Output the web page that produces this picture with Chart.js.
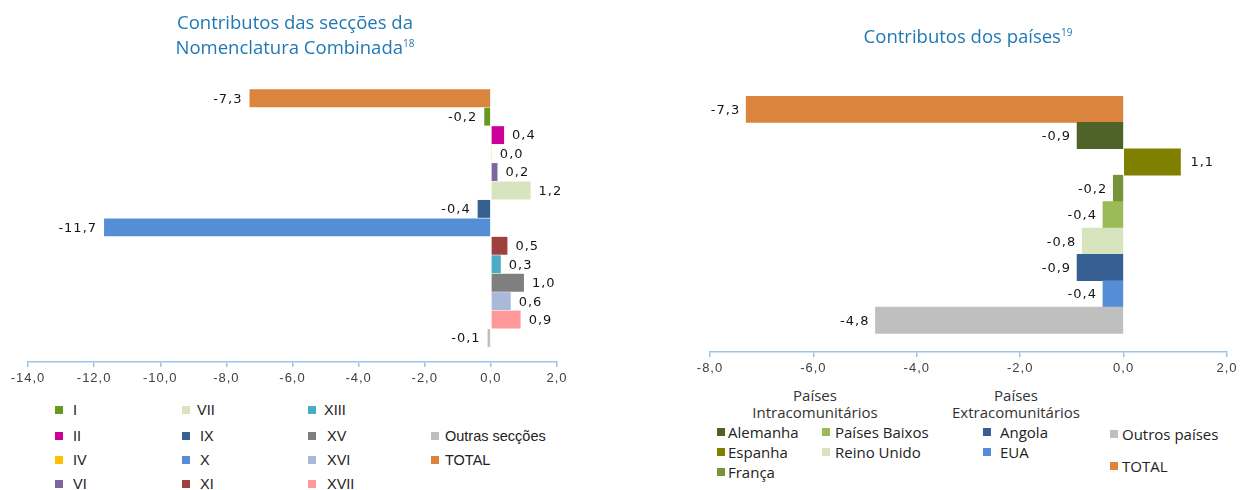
<!DOCTYPE html>
<html><head><meta charset="utf-8">
<script src="https://cdn.jsdelivr.net/npm/chart.js@4.4.1/dist/chart.umd.min.js"></script>
<style>
html,body{margin:0;padding:0;background:#fff;}
#wrap{position:relative;width:1242px;height:490px;overflow:hidden;}
canvas{position:absolute;top:0;}
.title{position:absolute;color:#1f78b4;font-family:"Open Sans",sans-serif;font-size:18.5px;text-align:center;line-height:25px;white-space:nowrap;}
.title sup{font-size:10px;vertical-align:top;position:relative;top:-3px;}
.lg{position:absolute;white-space:nowrap;color:#222;display:flex;align-items:center;}
.lg i{display:inline-block;width:8px;height:8px;}
.lsec{font-family:"Liberation Sans",Arial,sans-serif;font-size:14.5px;}
.lcty{font-family:"Open Sans",sans-serif;font-size:15px;}
.hdr{position:absolute;font-family:"Open Sans",sans-serif;font-size:15px;color:#333;text-align:center;line-height:17px;white-space:nowrap;transform:translateX(-50%);}
</style></head>
<body><div id="wrap">
<canvas id="c1" width="620" height="390" style="left:0"></canvas>
<canvas id="c2" width="622" height="380" style="left:620px"></canvas>
<div class="title" style="left:95px;width:400px;top:9px;">Contributos das secções da<br>Nomenclatura Combinada<sup>18</sup></div>
<div class="title" style="left:768px;width:400px;top:23px;">Contributos dos países<sup>19</sup></div>
<div id="leg"></div>
</div>
<script>
// ---- data: left chart (secções da NC) ----
const secCategories = ['TOTAL','I','II','IV','VI','VII','IX','X','XI','XIII','XV','XVI','XVII','Outras secções'];
const secValues     = [-7.3, -0.2, 0.4, 0.03, 0.2, 1.2, -0.4, -11.7, 0.5, 0.3, 1.0, 0.6, 0.9, -0.1];
const secColors     = ['#db843d','#669a1e','#cc0099','#ffc000','#8064a2','#d7e4bd','#376092','#558ed5','#a0403e','#4bacc6','#7f7f7f','#aab9da','#ff9999','#bfbfbf'];
const secTicks      = [-14, -12, -10, -8, -6, -4, -2, 0, 2];

// ---- data: right chart (países) ----
const ctyCategories = ['TOTAL','Alemanha','Espanha','França','Países Baixos','Reino Unido','Angola','EUA','Outros países'];
const ctyValues     = [-7.3, -0.9, 1.1, -0.2, -0.4, -0.8, -0.9, -0.4, -4.8];
const ctyColors     = ['#db843d','#4f6228','#7f7f00','#77933c','#9bbb59','#d7e4bd','#376092','#558ed5','#bfbfbf'];
const ctyTicks      = [-8, -6, -4, -2, 0, 2];

const fmt = v => v.toFixed(1).replace('.', ',').replace('-0,0','0,0');
const AXIS = '#9dc3e6';

const spacing = {
  id: 'spacing',
  beforeDraw(chart) { chart.ctx.letterSpacing = '1px'; }
};

const valueLabels = {
  id: 'valueLabels',
  afterDatasetsDraw(chart, args, opts) {
    const ctx = chart.ctx;
    const meta = chart.getDatasetMeta(0);
    const data = chart.data.datasets[0].data;
    ctx.save();
    ctx.letterSpacing = '1px';
    ctx.font = '13px "DejaVu Sans", Verdana, sans-serif';
    ctx.fillStyle = '#151515';
    ctx.textBaseline = 'middle';
    meta.data.forEach((bar, i) => {
      const v = data[i];
      const xEnd = bar.x;
      if (v < 0) { ctx.textAlign = 'right'; ctx.fillText(fmt(v), xEnd - opts.neg, bar.y + 1); }
      else { ctx.textAlign = 'left'; ctx.fillText(fmt(v), xEnd + opts.pos, bar.y + 1); }
    });
    ctx.restore();
  }
};

function makeChart(id, cats, vals, cols, ticks, padding, extra, barPct, lab) {
  return new Chart(document.getElementById(id), {
    type: 'bar',
    data: { labels: cats, datasets: [{ data: vals, backgroundColor: cols, borderWidth: 0,
            barPercentage: barPct, categoryPercentage: 1 }] },
    options: {
      indexAxis: 'y', responsive: false, animation: false,
      layout: { padding },
      plugins: { legend: { display: false }, tooltip: { enabled: false }, valueLabels: lab },
      scales: {
        y: { display: false, offset: true,
             afterBuildTicks: s => { s._valueRange = cats.length + extra; } },
        x: { min: ticks[0], max: ticks[ticks.length - 1],
             afterBuildTicks: s => { s.ticks = ticks.map(v => ({ value: v })); },
             afterFit: s => { s.height = 28; },
             border: { color: AXIS, width: 1.5 },
             grid: { drawOnChartArea: false, drawTicks: true, tickLength: 5, color: AXIS, lineWidth: 1.5 },
             ticks: { padding: 4, color: '#404040', font: { family: '"Liberation Sans", Arial, sans-serif', size: 13 },
                      callback: v => fmt(v), maxRotation: 0, autoSkip: false } }
      }
    },
    plugins: [spacing, valueLabels]
  });
}

makeChart('c1', secCategories, secValues, secColors, secTicks, { left: 28, right: 63, top: 89, bottom: 0 }, 0.8, 0.97, { neg: 7, pos: 8 });
makeChart('c2', ctyCategories, ctyValues, ctyColors, ctyTicks, { left: 90, right: 15, top: 96, bottom: 0 }, 0.7, 1.0, { neg: 6, pos: 10 });

// ---- HTML legends built from the arrays ----
const leg = document.getElementById('leg');
function colorOf(cats, cols, name) { return cols[cats.indexOf(name)]; }
function addItem(cls, name, color, x, y, gap) {
  const d = document.createElement('div');
  d.className = 'lg ' + cls;
  d.style.left = x + 'px'; d.style.top = (y - 10) + 'px'; d.style.height = '20px';
  const m = document.createElement('i'); m.style.background = color; m.style.marginRight = gap + 'px';
  d.appendChild(m); d.appendChild(document.createTextNode(name));
  leg.appendChild(d);
}
// left legend columns
const secLegendCols = [['I','II','IV','VI'], ['VII','IX','X','XI'], ['XIII','XV','XVI','XVII'], [null,'Outras secções','TOTAL']];
const secColX = [55, 182, 308, 431];
const secGap = [10, 7, 8, 6];
const secRowY = [410, 436, 460, 484];
secLegendCols.forEach((col, ci) => col.forEach((name, ri) => {
  if (!name) return;
  addItem('lsec', name, colorOf(secCategories, secColors, name), secColX[ci], secRowY[ri], secGap[ci] + ((ci===1||ci===2) && ri>0 ? 3 : 0));
}));
// right legend
const hdrs = [['Países<br>Intracomunitários', 815], ['Países<br>Extracomunitários', 1016]];
hdrs.forEach(([t, x]) => { const h = document.createElement('div'); h.className = 'hdr'; h.innerHTML = t; h.style.left = x + 'px'; h.style.top = '387px'; leg.appendChild(h); });
const ctyLegendCols = [['Alemanha','Espanha','França'], ['Países Baixos','Reino Unido'], ['Angola','EUA'], ['Outros países','TOTAL']];
const ctyColX = [717, 822, 983, 1110];
const ctyGap = [3, 5, 9, 4];
ctyLegendCols.forEach((col, ci) => col.forEach((name, ri) => {
  const y = ci === 3 ? (ri === 0 ? 434 : 466) : 432 + ri * 20;
  addItem('lcty', name, colorOf(ctyCategories, ctyColors, name), ctyColX[ci], y, ctyGap[ci]);
}));
</script>
</body></html>
